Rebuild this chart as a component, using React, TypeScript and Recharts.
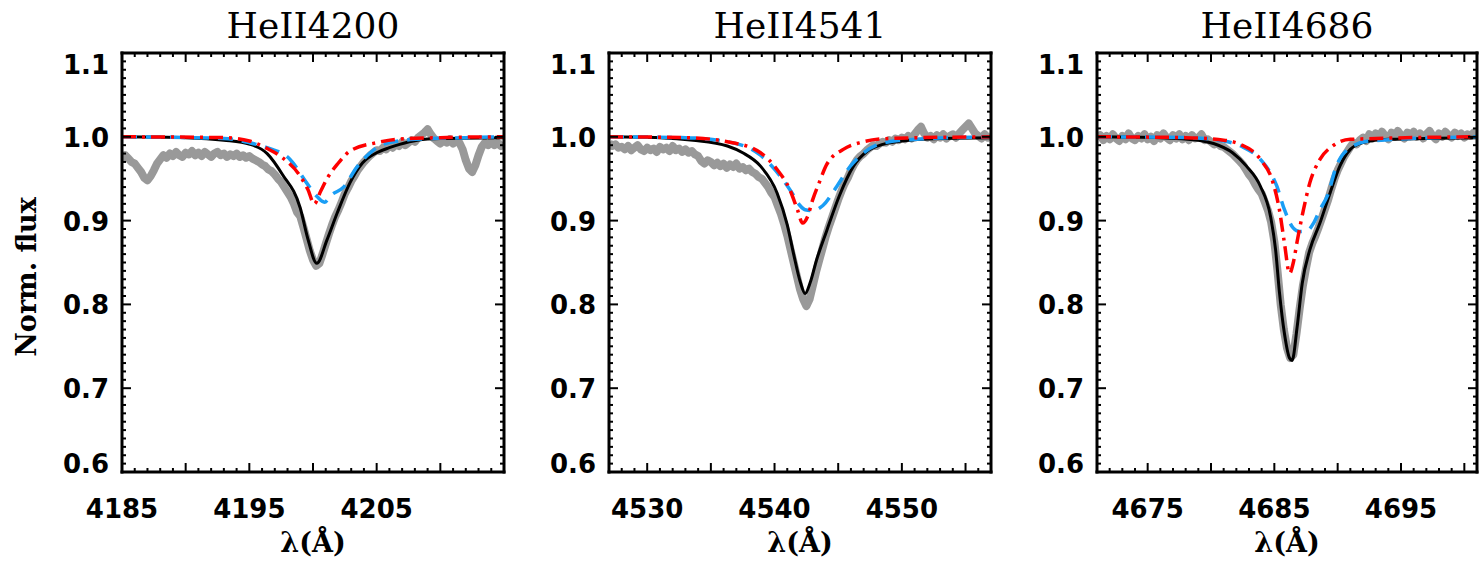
import React from "react";
import { LineChart, Line, XAxis, YAxis } from "recharts";

const steps = (a: number, b: number, d: number) => {
  const out: number[] = [];
  for (let i = 0; a + i * d <= b + 1e-9; i++) out.push(Math.round((a + i * d) * 100) / 100);
  return out;
};

// ---- HeII 4200 ----  observed spectrum sampled every 0.25 A
const w4200Obs = steps(4185, 4215, 0.25);
const f4200Obs = [
  0.972, 0.978, 0.974, 0.970,
  0.968, 0.963, 0.958, 0.951,
  0.948, 0.953, 0.960, 0.968,
  0.973, 0.978, 0.975, 0.980,
  0.977, 0.982, 0.978, 0.976,
  0.981, 0.979, 0.983, 0.978,
  0.981, 0.977, 0.982, 0.979,
  0.976, 0.980, 0.982, 0.978,
  0.980, 0.976, 0.979, 0.977,
  0.980, 0.976, 0.978, 0.975,
  0.977, 0.974, 0.972, 0.970,
  0.967, 0.965, 0.961, 0.959,
  0.955, 0.950, 0.946, 0.940,
  0.934, 0.928, 0.920, 0.910,
  0.905, 0.892, 0.878, 0.864,
  0.853, 0.846, 0.849, 0.860,
  0.872, 0.884, 0.895, 0.905,
  0.913, 0.922, 0.932, 0.939,
  0.947, 0.953, 0.960, 0.965,
  0.970, 0.974, 0.978, 0.981,
  0.984, 0.983, 0.987, 0.985,
  0.990, 0.987, 0.991, 0.989,
  0.994, 0.990, 0.993, 0.996,
  0.994, 0.999, 1.002, 1.005,
  1.009, 1.003, 0.998, 0.995,
  0.992, 0.996, 0.993, 0.997,
  0.992, 0.995, 0.993, 0.985,
  0.972, 0.962, 0.958, 0.966,
  0.978, 0.988, 0.993, 0.990,
  0.994, 0.990, 0.993, 0.989,
  0.992,
];
const w4200Fit = [4185, 4190, 4193, 4195.05, 4196.4, 4197.6, 4199.0, 4199.6, 4200.3, 4201.1, 4201.9, 4202.9, 4203.9, 4205.0, 4206.0, 4206.8, 4208.2, 4210, 4215];
const f4200Fit = [1.0, 0.999, 0.996, 0.991, 0.98, 0.955, 0.915, 0.878, 0.849, 0.877, 0.909, 0.945, 0.969, 0.981, 0.987, 0.991, 0.996, 0.998, 0.999];
const w4200Red = [4185, 4193, 4195, 4196.4, 4197.6, 4199.0, 4199.6, 4200.1, 4200.6, 4201.1, 4201.9, 4202.9, 4205.0, 4206.6, 4210, 4215];
const f4200Red = [1.0, 0.999, 0.995, 0.986, 0.975, 0.953, 0.937, 0.92, 0.935, 0.95, 0.967, 0.983, 0.993, 0.997, 0.999, 1.0];
const w4200Blue = [4185, 4193, 4195, 4196.4, 4198.2, 4199.5, 4200.3, 4200.9, 4201.4, 4202.4, 4203.5, 4204.5, 4205.5, 4208, 4212, 4215];
const f4200Blue = [1.0, 0.998, 0.993, 0.987, 0.973, 0.945, 0.929, 0.922, 0.93, 0.94, 0.965, 0.981, 0.991, 0.997, 0.999, 1.0];

// ---- HeII 4541 ----
const w4541Obs = steps(4527, 4557, 0.25);
const f4541Obs = [
  0.993, 0.989, 0.991, 0.987,
  0.988, 0.985, 0.989, 0.984,
  0.987, 0.990, 0.985, 0.983,
  0.987, 0.984, 0.986, 0.982,
  0.988, 0.985, 0.987, 0.983,
  0.989, 0.984, 0.986, 0.982,
  0.985, 0.981, 0.983, 0.979,
  0.977, 0.971, 0.968, 0.972,
  0.970, 0.966, 0.969, 0.965,
  0.968, 0.963, 0.967, 0.964,
  0.968, 0.962, 0.964, 0.960,
  0.962, 0.958, 0.956, 0.952,
  0.950, 0.945, 0.940, 0.933,
  0.928, 0.918, 0.908, 0.896,
  0.882, 0.866, 0.850, 0.834,
  0.818, 0.806, 0.798, 0.806,
  0.822, 0.838, 0.852, 0.866,
  0.880, 0.892, 0.903, 0.914,
  0.925, 0.935, 0.944, 0.951,
  0.960, 0.967, 0.973, 0.977,
  0.980, 0.984, 0.987, 0.990,
  0.989, 0.992, 0.994, 0.993,
  0.996, 0.994, 0.998, 0.996,
  0.999, 0.997, 1.001, 0.998,
  1.003, 1.008, 1.012, 1.004,
  0.999, 1.001, 0.997, 1.002,
  0.999, 1.003, 0.998, 1.001,
  1.003, 0.999, 1.004, 1.008,
  1.012, 1.016, 1.010, 1.004,
  1.001, 0.998, 1.003, 0.999,
  1.001,
];
const w4541Fit = [4527, 4531, 4533.6, 4536.3, 4537.5, 4538.9, 4540.2, 4541.0, 4541.5, 4542.0, 4542.4, 4542.8, 4543.3, 4544.1, 4545.1, 4546.2, 4547.3, 4548.5, 4550, 4553, 4557];
const f4541Fit = [1.0, 0.999, 0.996, 0.989, 0.981, 0.965, 0.933, 0.895, 0.86, 0.828, 0.813, 0.826, 0.853, 0.888, 0.93, 0.965, 0.983, 0.991, 0.995, 0.998, 0.999];
const w4541Red = [4527, 4533, 4536.7, 4538.9, 4540.2, 4541.2, 4541.8, 4542.2, 4542.6, 4543.0, 4543.5, 4544.1, 4545.4, 4546.7, 4549, 4557];
const f4541Red = [1.0, 0.999, 0.993, 0.981, 0.961, 0.937, 0.913, 0.897, 0.905, 0.925, 0.945, 0.967, 0.985, 0.993, 0.998, 1.0];
const w4541Blue = [4527, 4533, 4536.7, 4538.9, 4540.4, 4541.5, 4542.0, 4542.4, 4543.0, 4543.8, 4544.9, 4545.9, 4546.7, 4548.0, 4550, 4557];
const f4541Blue = [1.0, 0.999, 0.993, 0.978, 0.954, 0.93, 0.918, 0.913, 0.912, 0.918, 0.941, 0.964, 0.977, 0.99, 0.996, 1.0];

// ---- HeII 4686 ----
const w4686Obs = steps(4671, 4701, 0.25);
const f4686Obs = [
  0.998, 1.002, 0.996, 1.001,
  0.997, 1.003, 0.998, 0.995,
  1.001, 0.997, 1.004, 0.998,
  0.996, 1.001, 0.998, 1.003,
  0.997, 1.000, 0.995, 1.002,
  0.998, 1.004, 0.999, 0.996,
  1.002, 0.998, 1.003, 0.997,
  1.001, 0.996, 1.002, 0.998,
  0.999, 1.003, 0.996, 0.997,
  0.994, 0.991, 0.993, 0.989,
  0.988, 0.985, 0.982, 0.979,
  0.975, 0.971, 0.967, 0.961,
  0.955, 0.950, 0.943, 0.937,
  0.932, 0.922, 0.912, 0.898,
  0.875, 0.840, 0.800, 0.770,
  0.748, 0.736, 0.740, 0.765,
  0.795, 0.822, 0.843, 0.862,
  0.873, 0.882, 0.892, 0.903,
  0.914, 0.925, 0.938, 0.950,
  0.960, 0.968, 0.976, 0.982,
  0.988, 0.993, 0.991, 0.996,
  0.999, 0.995, 1.003, 0.998,
  1.004, 0.999, 1.006, 1.001,
  0.997, 1.005, 1.000, 1.007,
  1.002, 0.998, 1.005, 1.001,
  1.006, 1.000, 1.004, 0.998,
  1.003, 1.007, 1.001, 0.997,
  1.004, 1.000, 1.006, 1.002,
  0.999, 1.005, 1.001, 1.004,
  0.999, 1.003, 1.001, 1.005,
  1.002,
];
const w4686Fit = [4671, 4676, 4679, 4680.2, 4681.7, 4682.8, 4683.9, 4684.7, 4685.1, 4685.4, 4685.8, 4686.2, 4686.4, 4686.8, 4687.2, 4687.8, 4688.6, 4689.4, 4690.2, 4691.0, 4692.0, 4694, 4701];
const f4686Fit = [1.0, 0.999, 0.996, 0.992, 0.981, 0.965, 0.941, 0.905, 0.865, 0.815, 0.765, 0.736, 0.733, 0.773, 0.825, 0.865, 0.897, 0.933, 0.966, 0.985, 0.993, 0.997, 0.999];
const w4686Red = [4671, 4678, 4681, 4682.3, 4683.9, 4684.9, 4685.4, 4685.8, 4686.2, 4686.5, 4686.8, 4687.3, 4687.8, 4688.6, 4689.6, 4691, 4701];
const f4686Red = [1.0, 0.999, 0.996, 0.991, 0.973, 0.945, 0.913, 0.873, 0.837, 0.85, 0.875, 0.913, 0.945, 0.973, 0.989, 0.997, 1.0];
const w4686Blue = [4671, 4678, 4681, 4682.5, 4683.9, 4685.2, 4685.8, 4686.5, 4687.0, 4687.6, 4688.1, 4688.6, 4689.2, 4689.9, 4691.0, 4692.5, 4701];
const f4686Blue = [1.0, 0.999, 0.995, 0.988, 0.973, 0.941, 0.913, 0.891, 0.887, 0.888, 0.897, 0.913, 0.93, 0.965, 0.987, 0.995, 1.0];

const yMajor = [0.6, 0.7, 0.8, 0.9, 1.0, 1.1];
const yLabels = ["0.6", "0.7", "0.8", "0.9", "1.0", "1.1"];

const zip = (xs: number[], ys: number[]) => xs.map((x, i) => ({ x, y: ys[i] }));

const NUM_FONT = "'DejaVu Sans', sans-serif";
const SERIF = "'DejaVu Serif', serif";
const yMinor = steps(0.6, 1.1, 0.01);

const PLOT_TOP = 53;
const PLOT_H = 419;
const AXIS_W = 120;

const isMajorX = (v: number) => Math.abs(v % 5) < 1e-6;
const isMajorY = (v: number) => Math.round(v * 100) % 10 === 0;

function Panel(props: any) {
  const { plotLeft, plotWidth, domain, labelTicks, title, obs, fit, red, blue, yTitle } = props;
  const xTicks = steps(domain[0], domain[1], 1);
  const frame = { stroke: "#000", strokeWidth: 3, strokeLinecap: "square" as const };

  return (
    <div style={{ position: "absolute", left: plotLeft - AXIS_W, top: 0 }}>
      <LineChart
        width={AXIS_W + plotWidth + 11}
        height={564}
        margin={{ top: PLOT_TOP - 1, right: 10, bottom: 564 - PLOT_TOP - PLOT_H - 60, left: 0 }}
      >
        <XAxis
          xAxisId="b"
          type="number"
          dataKey="x"
          domain={domain}
          allowDataOverflow
          ticks={xTicks}
          interval={0}
          tickSize={0}
          tickMargin={0}
          height={60}
          axisLine={frame}
          tickLine={false}
          tick={(p: any) => {
            const v = p.payload.value;
            return (
              <g>
                <line x1={p.x} x2={p.x} y1={p.y} y2={p.y - (isMajorX(v) ? 9 : 4)} stroke="#000" strokeWidth={2} />
                {labelTicks.includes(v) && (
                  <text x={p.x} y={p.y + 46} textAnchor="middle" fontFamily={NUM_FONT} fontWeight="bold" fontSize={26} fill="#000">
                    {v}
                  </text>
                )}
              </g>
            );
          }}
          label={{
            content: (lp: any) => {
              const vb = lp.viewBox || {};
              return (
                <text x={vb.x + vb.width / 2} y={vb.y + 80} textAnchor="middle" fontFamily={SERIF} fontWeight="bold" fontSize={27} fill="#000">
                  λ(Å)
                </text>
              );
            },
          }}
        />
        <XAxis
          xAxisId="t"
          orientation="top"
          type="number"
          dataKey="x"
          domain={domain}
          allowDataOverflow
          ticks={xTicks}
          interval={0}
          tickSize={0}
          tickMargin={0}
          height={1}
          axisLine={frame}
          tickLine={false}
          tick={(p: any) => (
            <line x1={p.x} x2={p.x} y1={p.y} y2={p.y + (isMajorX(p.payload.value) ? 9 : 4)} stroke="#000" strokeWidth={2} />
          )}
          label={{
            content: (lp: any) => {
              const vb = lp.viewBox || {};
              return (
                <text x={vb.x + vb.width / 2} y={vb.y - 14} textAnchor="middle" fontFamily={SERIF} fontSize={36} fill="#000">
                  {title}
                </text>
              );
            },
          }}
        />
        <YAxis
          yAxisId="l"
          type="number"
          domain={[0.6, 1.1]}
          allowDataOverflow
          ticks={yMinor}
          interval={0}
          tickSize={0}
          tickMargin={0}
          width={AXIS_W}
          axisLine={frame}
          tickLine={false}
          tick={(p: any) => {
            const v = p.payload.value;
            const major = isMajorY(v);
            const idx = yMajor.findIndex((m) => Math.abs(m - v) < 1e-6);
            const shift = v > 1.05 ? 11 : v < 0.65 ? -9 : 0;
            return (
              <g>
                <line x1={p.x} x2={p.x + (major ? 9 : 4)} y1={p.y} y2={p.y} stroke="#000" strokeWidth={2} />
                {idx >= 0 && (
                  <text x={p.x - 13} y={p.y + 10 + shift} textAnchor="end" fontFamily={NUM_FONT} fontWeight="bold" fontSize={26} fill="#000">
                    {yLabels[idx]}
                  </text>
                )}
              </g>
            );
          }}
          label={
            yTitle
              ? {
                  content: () => {
                    const cx = 24;
                    const cy = 277;
                    return (
                      <text x={cx} y={cy} transform={`rotate(-90, ${cx}, ${cy})`} textAnchor="middle" dominantBaseline="central" fontFamily={SERIF} fontWeight="bold" fontSize={27} fill="#000">
                        {yTitle}
                      </text>
                    );
                  },
                }
              : undefined
          }
        />
        <YAxis
          yAxisId="r"
          orientation="right"
          type="number"
          domain={[0.6, 1.1]}
          allowDataOverflow
          ticks={yMinor}
          interval={0}
          tickSize={0}
          tickMargin={0}
          width={1}
          axisLine={frame}
          tickLine={false}
          tick={(p: any) => (
            <line x1={p.x} x2={p.x - (isMajorY(p.payload.value) ? 9 : 4)} y1={p.y} y2={p.y} stroke="#000" strokeWidth={2} />
          )}
        />
        <Line xAxisId="b" yAxisId="l" data={obs} dataKey="y" type="linear" stroke="#999999" strokeWidth={8} strokeLinejoin="round" dot={false} isAnimationActive={false} />
        <Line xAxisId="b" yAxisId="l" data={fit} dataKey="y" type="monotone" stroke="#000" strokeWidth={3} dot={false} isAnimationActive={false} />
        <Line xAxisId="b" yAxisId="l" data={blue} dataKey="y" type="monotone" stroke="#1a9ef5" strokeWidth={3.5} strokeDasharray="15 9" dot={false} isAnimationActive={false} />
        <Line xAxisId="b" yAxisId="l" data={red} dataKey="y" type="monotone" stroke="#ff0000" strokeWidth={3.5} strokeDasharray="14 6 3 6" dot={false} isAnimationActive={false} />
      </LineChart>
    </div>
  );
}

export default function App() {
  return (
    <div style={{ position: "absolute", left: 0, top: 0, width: 1481, height: 564, background: "#fff" }}>
      <Panel
        plotLeft={122}
        plotWidth={382}
        domain={[4185, 4215]}
        labelTicks={[4185, 4195, 4205]}
        title="HeII4200"
        yTitle="Norm. flux"
        obs={zip(w4200Obs, f4200Obs)}
        fit={zip(w4200Fit, f4200Fit)}
        red={zip(w4200Red, f4200Red)}
        blue={zip(w4200Blue, f4200Blue)}
      />
      <Panel
        plotLeft={609}
        plotWidth={382}
        domain={[4527, 4557]}
        labelTicks={[4530, 4540, 4550]}
        title="HeII4541"
        obs={zip(w4541Obs, f4541Obs)}
        fit={zip(w4541Fit, f4541Fit)}
        red={zip(w4541Red, f4541Red)}
        blue={zip(w4541Blue, f4541Blue)}
      />
      <Panel
        plotLeft={1097}
        plotWidth={380}
        domain={[4671, 4701]}
        labelTicks={[4675, 4685, 4695]}
        title="HeII4686"
        obs={zip(w4686Obs, f4686Obs)}
        fit={zip(w4686Fit, f4686Fit)}
        red={zip(w4686Red, f4686Red)}
        blue={zip(w4686Blue, f4686Blue)}
      />
    </div>
  );
}
